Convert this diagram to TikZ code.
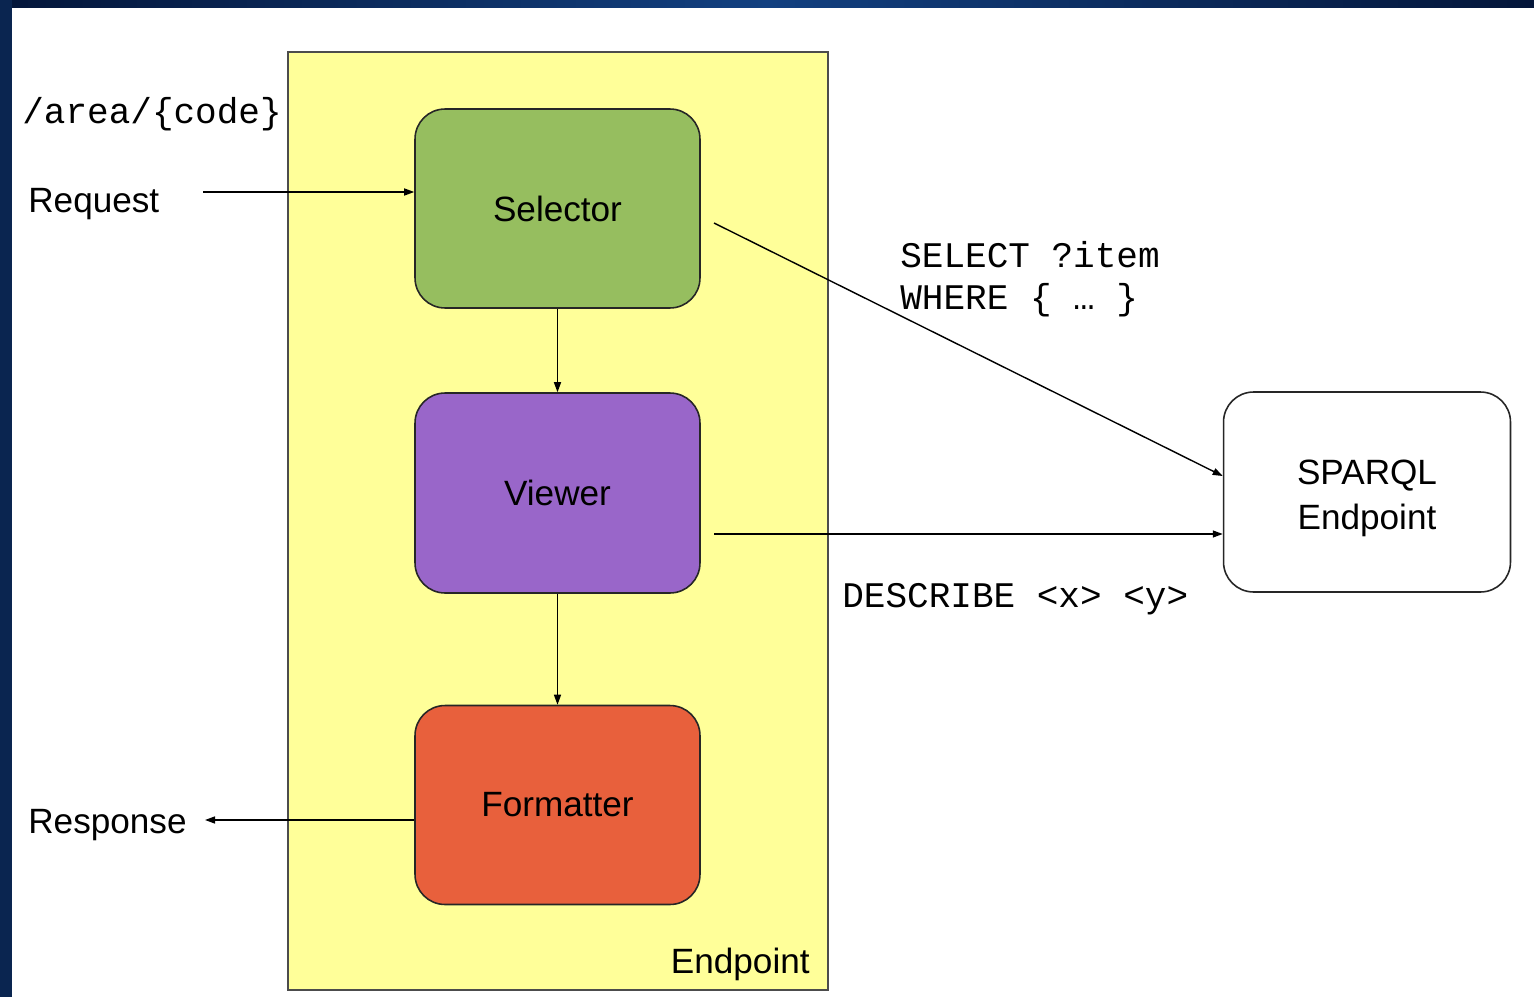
\documentclass[tikz,border=0pt]{standalone}
\usepackage{fontspec}
\setmainfont{Liberation Sans}
\newfontfamily\monofam{Liberation Mono}
\usetikzlibrary{arrows.meta,calc}
\definecolor{navy}{HTML}{0A2550}
\definecolor{navylight}{HTML}{124080}
\definecolor{navydark}{HTML}{04163A}
\definecolor{bgyellow}{HTML}{FFFF99}
\definecolor{selgreen}{HTML}{96BE5F}
\definecolor{viewpurple}{HTML}{9966C9}
\definecolor{formred}{HTML}{E8603C}
\tikzset{
  proc/.style={draw=black!85, line width=0.9pt, rounded corners=0.6cm,
    minimum width=5.7cm, minimum height=3.98cm, inner sep=0pt,
    font=\fontsize{20}{25.5}\selectfont, align=center},
  sanslabel/.style={inner sep=0pt, font=\fontsize{20}{24}\selectfont},
  monolabel/.style={inner sep=0pt, font=\monofam\fontsize{20.5}{24}\selectfont},
  conn/.style={draw=black, line width=0.8pt, -{Triangle[length=0.2cm,width=0.14cm]}},
}
\begin{document}
\begin{tikzpicture}[x=0.02cm,y=-0.02cm]
% background and margins
\useasboundingbox (0,0) rectangle (1534,997);
\fill[navy] (0,0) rectangle (12,997);
\shade[left color=navydark, right color=navydark, middle color=navylight] (0,0) rectangle (1534,8);
\fill[navy] (0,0) rectangle (12,8);
\fill[white] (12,8) rectangle (1534,997);

% container
\node[draw=black!70, fill=bgyellow, line width=0.9pt, minimum width=10.8cm, minimum height=18.76cm, inner sep=0pt] (ep) at (558,521) {};
\node[sanslabel, anchor=base east] (eplabel) at (810,973) {Endpoint};

% process boxes
\node[proc, fill=selgreen] (sel) at (557.5,208.5) {Selector};
\node[proc, fill=viewpurple, minimum height=4cm] (view) at (557.5,493) {Viewer};
\node[proc, fill=formred] (form) at (557.5,805) {Formatter};
\node[proc, fill=white, minimum width=5.74cm, minimum height=4cm] (sp) at (1367,492) {};
\node[sanslabel, align=center, font=\fontsize{20}{25.5}\selectfont] (sptext) at (1367,498) {SPARQL\\Endpoint};

% labels
\node[monolabel, anchor=base west] (path) at (22,124) {/area/\{code\}};
\node[sanslabel, anchor=base west] (reqlabel) at (28,212) {Request};
\node[sanslabel, anchor=base west] (resplabel) at (28,833) {Response};
\node[monolabel, anchor=base west] (q1) at (900,267) {SELECT ?item};
\node[monolabel, anchor=base west] (q2) at (900,309) {WHERE \{ … \}};
\node[monolabel, anchor=base west] (q3) at (842,607) {DESCRIBE <x> <y>};

% connector end points
\coordinate (req) at (203,192);
\coordinate (resp) at (205,820);
\coordinate (selout) at (714,223);
\coordinate (viewout) at (714,534);

% connectors
\draw[conn] (req) -- (req -| sel.west);
\draw[conn] (sel.south) -- (view.north);
\draw[conn] (view.south) -- (form.north);
\draw[conn] (resp -| form.west) -- (resp);
\draw[conn] (selout) -- ([yshift=0.32cm]sp.west);
\draw[conn] (viewout) -- (viewout -| sp.west);
\end{tikzpicture}
\end{document}
